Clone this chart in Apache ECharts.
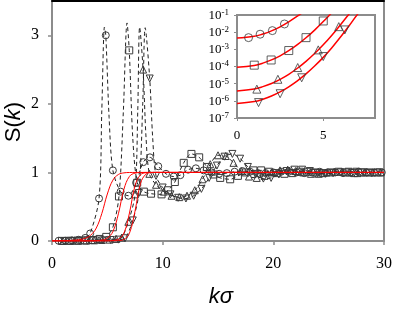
<!DOCTYPE html>
<html><head><meta charset="utf-8">
<script src="https://cdn.jsdelivr.net/npm/echarts@6/dist/echarts.min.js"></script>
<style>html,body{margin:0;padding:0;background:#fff}#c{width:395px;height:309px}</style>
</head><body><div id="c"></div>
<script>
// ---- data (k sigma, S(k)) ----
const circlePoints = [[0.6,0.003],[1.2,0.005],[1.8,0.008],[2.4,0.018],[3.0,0.045],[3.45,0.11],[4.25,0.62],[4.86,3.0],[5.5,1.03],[6.2,0.72],[6.9,0.66],[7.6,0.85],[8.25,1.15],[8.85,1.22],[9.6,1.09],[10.3,0.98],[11.0,0.94],[11.6,0.96],[12.3,1.04],[13.0,1.06],[13.7,1.03],[14.4,1.0],[15.1,0.98],[15.8,0.99],[16.5,1.01],[17.2,1.02],[17.9,1.01],[18.6,0.99],[19.3,0.99],[20.0,1.0],[20.7,1.01],[21.4,1.01],[22.1,1.0],[22.8,0.99],[23.5,1.0],[24.2,1.01],[24.9,1.0],[25.6,1.0],[26.3,0.99],[27.0,1.0],[27.7,1.01],[28.4,1.0],[29.1,1.0],[29.8,1.0]];
const circleCurveOnly = [[4.5,1.9],[4.74,3.12],[5.16,1.8]];

const squarePoints = [[0.9,0.002],[1.6,0.004],[2.3,0.006],[3.0,0.01],[3.7,0.015],[4.3,0.03],[4.9,0.06],[5.5,0.2],[6.05,0.65],[6.98,2.78],[7.7,0.85],[8.3,0.72],[8.95,0.69],[9.9,0.68],[10.5,0.74],[11.1,0.86],[11.9,1.14],[12.6,1.27],[13.3,1.22],[14.0,1.08],[14.6,0.97],[15.2,0.92],[16.1,0.9],[16.8,0.95],[17.5,1.0],[18.2,1.03],[18.9,1.03],[19.6,1.01],[20.3,0.99],[21.0,0.98],[21.7,0.99],[22.4,1.01],[23.1,1.01],[23.8,1.0],[24.5,0.99],[25.2,1.0],[25.9,1.01],[26.6,1.0],[27.3,0.99],[28.0,1.0],[28.7,1.0],[29.4,1.0]];
const squareCurveOnly = [[6.45,1.9],[6.78,3.18],[7.3,1.5]];

const triUpPoints = [[1.0,0.0],[1.7,0.002],[2.4,0.004],[3.1,0.006],[3.8,0.01],[4.5,0.015],[5.2,0.02],[5.8,0.03],[6.3,0.05],[6.9,0.28],[7.5,0.68],[8.23,2.5],[8.8,0.98],[9.4,0.82],[10.1,0.72],[10.8,0.66],[11.5,0.64],[12.2,0.66],[12.9,0.74],[13.6,0.9],[14.3,1.12],[15.0,1.25],[15.7,1.24],[16.4,1.14],[17.1,1.02],[17.8,0.94],[18.5,0.92],[19.2,0.95],[19.9,1.0],[20.6,1.03],[21.3,1.04],[22.0,1.02],[22.7,1.0],[23.4,0.98],[24.1,0.98],[24.8,1.0],[25.5,1.01],[26.2,1.01],[26.9,1.0],[27.6,0.99],[28.3,1.0],[29.0,1.0],[29.7,1.0]];
const triUpCurveOnly = [[7.75,1.9],[7.92,3.12],[8.5,1.5]];

const triDownPoints = [[1.1,0.0],[1.8,0.001],[2.5,0.003],[3.2,0.005],[3.9,0.008],[4.6,0.01],[5.3,0.015],[6.0,0.02],[6.6,0.04],[7.3,0.3],[7.85,0.7],[8.83,2.37],[9.4,0.95],[10.0,0.78],[10.7,0.68],[11.4,0.63],[12.1,0.62],[12.8,0.66],[13.5,0.76],[14.2,0.92],[14.9,1.1],[15.6,1.23],[16.3,1.27],[17.0,1.2],[17.7,1.08],[18.4,0.97],[19.1,0.91],[19.8,0.92],[20.5,0.97],[21.2,1.02],[21.9,1.04],[22.6,1.04],[23.3,1.02],[24.0,0.99],[24.7,0.98],[25.4,0.99],[26.1,1.0],[26.8,1.01],[27.5,1.01],[28.2,1.0],[28.9,0.99],[29.6,1.0]];
const triDownCurveOnly = [[8.2,2.0],[8.42,3.11],[9.1,1.5]];

// red fitted curves (used in main plot and log inset)
const fitCircle = [[0,0.0045],[1,0.0057],[1.5,0.0078],[2,0.0119],[2.5,0.0205],[3,0.040],[3.5,0.085],[4,0.189],[4.5,0.40],[5,0.685],[5.5,0.887],[6,0.970],[6.5,0.9935],[7,0.9988],[8,1],[30,1]];
const fitSquare = [[0,9.0e-5],[1,1.16e-4],[1.5,1.57e-4],[2,2.43e-4],[2.5,4.2e-4],[3,8.3e-4],[3.5,1.86e-3],[4,4.7e-3],[4.5,0.0132],[5,0.0415],[5.5,0.137],[6,0.397],[6.5,0.755],[7,0.942],[7.5,0.990],[8,0.9985],[9,1],[30,1]];
const fitTriUp = [[0,3.8e-6],[1,4.9e-6],[1.5,6.7e-6],[2,1.02e-5],[2.5,1.79e-5],[3,3.5e-5],[3.5,7.9e-5],[4,2.0e-4],[4.5,5.7e-4],[5,1.84e-3],[5.5,6.7e-3],[6,0.0272],[6.5,0.115],[7,0.408],[7.5,0.805],[8,0.966],[8.5,0.9954],[9,0.9994],[10,1],[30,1]];
const fitTriDown = [[0,7.1e-7],[1,9.1e-7],[1.5,1.24e-6],[2,1.91e-6],[2.5,3.3e-6],[3,6.6e-6],[3.5,1.47e-5],[4,3.7e-5],[4.5,1.06e-4],[5,3.4e-4],[5.5,1.25e-3],[6,5.2e-3],[6.5,0.0237],[7,0.114],[7.5,0.435],[8,0.840],[8.5,0.976],[9,0.997],[10,1],[30,1]];

// inset data points
const insetCircle = [[0.67,4.8e-3],[1.34,7.6e-3],[2.05,1.23e-2],[2.75,3.0e-2]];
const insetSquare = [[1.0,1.2e-4],[1.98,2.4e-4],[3.0,8.5e-4],[4.0,4.8e-3],[5.0,4.5e-2]];
const insetTriUp = [[1.15,4.8e-6],[2.37,1.8e-5],[3.52,8.7e-5],[4.71,9.3e-4],[5.9,2.1e-2]];
const insetTriDown = [[1.25,7.9e-7],[2.5,2.6e-6],[3.75,2.2e-5],[5.0,3.8e-4],[6.25,1.35e-2]];

// tick values
const mainXTicks = [0,10,20,30];
const mainYTicks = [0,1,2,3];
const insetXTicks = [0,5];
const insetYTicks = [1e-7,1e-6,1e-5,1e-4,1e-3,1e-2,1e-1];

// ---- chart ----
const GRAY = '#8c8c8c';
const MK = '#3a3a3a';
function merged(points, curveOnly){
  const a = points.map(p => ({value:p}));
  const b = curveOnly.map(p => ({value:p, symbol:'none'}));
  return a.concat(b).sort((u,v)=>u.value[0]-v.value[0]);
}
function dashed(name, points, curveOnly, symbol, rot){
  return {type:'line', name, xAxisIndex:0, yAxisIndex:0, data: merged(points, curveOnly),
    smooth:0.3, symbol, symbolSize:7, symbolRotate:rot||0, showAllSymbol:true, z:2,
    lineStyle:{color:'#222', width:1, type:[4,3]},
    itemStyle:{color:'rgba(255,255,255,0)', borderColor:MK, borderWidth:1}};
}
function red(data, xi, yi, w, z){
  return {type:'line', xAxisIndex:xi, yAxisIndex:yi, data, smooth:0.4, symbol:'none', z, clip:true,
    lineStyle:{color:'#ff0000', width:w}};
}
function insetMk(data, symbol, rot){
  return {type:'scatter', xAxisIndex:2, yAxisIndex:2, data, symbol, symbolSize:8, symbolRotate:rot||0, z:13,
    itemStyle:{color:'rgba(255,255,255,0)', borderColor:MK, borderWidth:1}};
}
const serif = 'Liberation Serif';
const chart = echarts.init(document.getElementById('c'), null, {renderer:'canvas'});
chart.setOption({
  animation:false,
  backgroundColor:'#fff',
  grid:[
    {left:52, right:8, top:1, bottom:68, show:false},
    {left:237, right:20, top:15, bottom:191, show:true, backgroundColor:'#fff', borderColor:GRAY, borderWidth:2, z:10}
  ],
  xAxis:[
    {gridIndex:0, type:'value', min:0, max:30, interval:10,
     axisLine:{onZero:false, lineStyle:{color:GRAY, width:2}},
     axisTick:{length:4, lineStyle:{color:GRAY, width:1.5}, customValues:mainXTicks},
     axisLabel:{fontFamily:serif, fontSize:16, color:'#000', margin:15, customValues:mainXTicks},
     splitLine:{show:false}},
    {gridIndex:0, type:'value', min:0, max:30, position:'top',
     axisLine:{onZero:false, lineStyle:{color:'#000', width:2}},
     axisTick:{show:false}, axisLabel:{show:false}, splitLine:{show:false}},
    {gridIndex:1, type:'value', min:0, max:8, z:11,
     axisLine:{onZero:false, lineStyle:{color:GRAY, width:2}},
     axisTick:{length:3, lineStyle:{color:GRAY, width:1}, customValues:insetXTicks},
     axisLabel:{fontFamily:serif, fontSize:13, color:'#000', margin:11, customValues:insetXTicks},
     splitLine:{show:false}}
  ],
  yAxis:[
    {gridIndex:0, type:'value', min:0, max:3.5,
     axisLine:{onZero:false, lineStyle:{color:GRAY, width:2}},
     axisTick:{length:4, lineStyle:{color:GRAY, width:1.5}, customValues:mainYTicks},
     axisLabel:{fontFamily:serif, fontSize:16, color:'#000', margin:13, customValues:mainYTicks},
     splitLine:{show:false}},
    {gridIndex:0, type:'value', min:0, max:3.5, position:'right',
     axisLine:{onZero:false, lineStyle:{color:GRAY, width:2}},
     axisTick:{show:false}, axisLabel:{show:false}, splitLine:{show:false}},
    {gridIndex:1, type:'log', logBase:10, min:1e-7, max:1e-1, z:11,
     axisLine:{onZero:false, lineStyle:{color:GRAY, width:2}},
     axisTick:{length:3, lineStyle:{color:GRAY, width:1}, customValues:insetYTicks},
     axisLabel:{color:'#000', margin:8, customValues:insetYTicks,
       formatter: v => '{b|10}{s|' + Math.round(Math.log10(v)) + '}',
       rich:{b:{fontFamily:serif, fontSize:13, color:'#000', lineHeight:14, verticalAlign:'bottom'},
             s:{fontFamily:serif, fontSize:9, color:'#000', lineHeight:14, verticalAlign:'top', padding:[0,0,6,0]}}},
     splitLine:{show:false}}
  ],
  series:[
    dashed('circle', circlePoints, circleCurveOnly, 'circle'),
    dashed('square', squarePoints, squareCurveOnly, 'rect'),
    dashed('triUp', triUpPoints, triUpCurveOnly, 'triangle'),
    dashed('triDown', triDownPoints, triDownCurveOnly, 'triangle', 180),
    red(fitCircle,0,0,1,3), red(fitSquare,0,0,1,3), red(fitTriUp,0,0,1,3), red(fitTriDown,0,0,1,3),
    red(fitCircle,2,2,1.5,12), red(fitSquare,2,2,1.5,12), red(fitTriUp,2,2,1.5,12), red(fitTriDown,2,2,1.5,12),
    insetMk(insetCircle,'circle'), insetMk(insetSquare,'rect'), insetMk(insetTriUp,'triangle'), insetMk(insetTriDown,'triangle',180)
  ],
  graphic:[
    {type:'text', x:14, y:122, rotation:Math.PI/2, z:20,
     style:{text:'{n|S(}{i|k}{n|)}', align:'center', verticalAlign:'middle',
       rich:{n:{fontFamily:'Liberation Sans', fontSize:22, fill:'#000'},
             i:{fontFamily:'Liberation Sans', fontSize:22, fontStyle:'italic', fill:'#000'}}}},
    {type:'text', x:221, y:297, z:20,
     style:{text:'kσ', font:'italic 22px "Liberation Sans"', fill:'#000', align:'center', verticalAlign:'middle'}}
  ]
});
</script></body></html>
